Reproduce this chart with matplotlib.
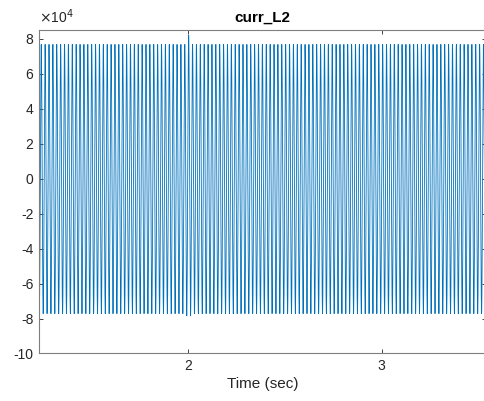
import numpy as np
import matplotlib
matplotlib.use("Agg")
import matplotlib.pyplot as plt

plt.rcParams['font.family'] = ['Liberation Sans', 'DejaVu Sans']

# curr_L2 signal parameters
freq_hz = 50.0
t_start, t_end = 1.2335, 3.538
sample_dt = 1e-4
pos_peak = 7.68e4
neg_peak = -7.72e4
# switching transient near t = 2 s
spike_time = 2.005
spike_peak = 8.2e4
spike_trough = -7.85e4

ytick_vals = [-10, -8, -6, -4, -2, 0, 2, 4, 6, 8]
xtick_vals = [2, 3]

t = np.arange(t_start, t_end, sample_dt)
s = np.sin(2 * np.pi * freq_hz * t)
curr = np.where(s >= 0, s * pos_peak, -s * neg_peak)
near = np.abs(t - spike_time) < 0.5 / freq_hz
curr[near & (s >= 0)] = s[near & (s >= 0)] * spike_peak
curr[near & (s < 0)] = -s[near & (s < 0)] * spike_trough

fig = plt.figure(figsize=(4.84, 4.01), dpi=100)
ax = fig.add_axes([0.0806, 0.1185, 0.9236, 0.8065])
ax.plot(t, curr, color='#0072BD', lw=0.6)

ax.set_xlim(t_start, t_end)
ax.set_ylim(-10e4, 8.5e4)
ax.set_xticks(xtick_vals)
ax.set_yticks([v * 1e4 for v in ytick_vals])
ax.set_yticklabels([str(v) for v in ytick_vals])
ax.tick_params(direction='in', length=3, width=0.6, colors='#262626',
               labelsize=10, top=True, right=True, pad=4)
for sp in ax.spines.values():
    sp.set_color('#7f7f7f')
    sp.set_linewidth(0.8)

ax.set_xlabel('Time (sec)', fontsize=11, color='#262626', labelpad=3)
ax.set_title('curr_L2', fontsize=11, fontweight='bold', color='black', pad=6)
ax.text(0.0, 1.012, r'$\times$10$^4$', transform=ax.transAxes,
        fontsize=10, color='#262626', ha='left', va='bottom')

fig.savefig('out.png', dpi=100)
